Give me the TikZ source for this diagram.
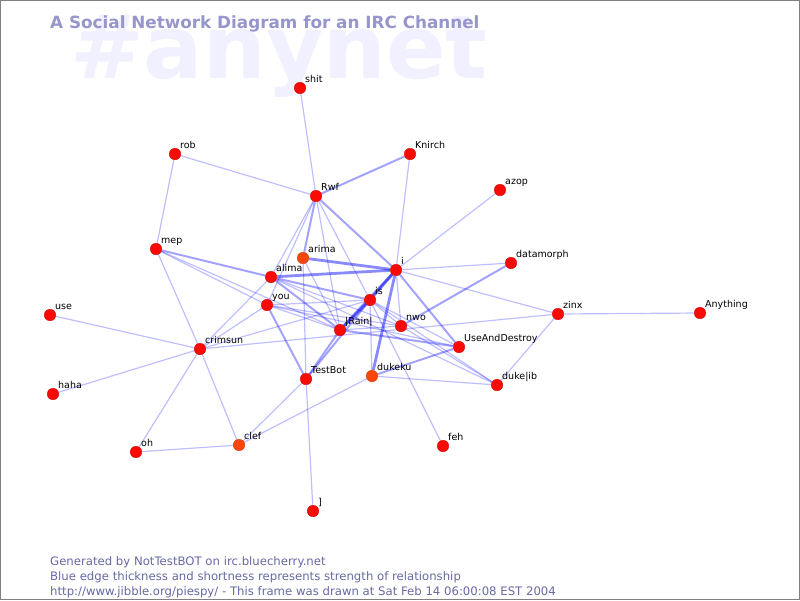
\documentclass[tikz,border=0pt]{standalone}
\usepackage{fontspec}
\setmainfont{DejaVu Sans}
\usetikzlibrary{backgrounds,calc}
\definecolor{nodered}{RGB}{250,10,5}
\definecolor{nodeorange}{RGB}{250,70,10}
\definecolor{titlecol}{RGB}{150,150,205}
\definecolor{markcol}{RGB}{240,240,255}
\definecolor{footcol}{RGB}{105,105,165}
\definecolor{edgecol}{RGB}{0,0,255}
\tikzset{
  dot/.style={circle,fill=nodered,draw=nodered!85!black,line width=0.4pt,minimum size=11.5pt,inner sep=0pt},
  odot/.style={dot,fill=nodeorange,draw=nodeorange!85!black},
  lbl/.style={anchor=base west,inner sep=0pt,font=\fontsize{9.5}{11}\selectfont,text=black},
  ethin/.style={draw=edgecol,opacity=0.25,line width=1.2pt},
  emed/.style={draw=edgecol,opacity=0.36,line width=2pt},
  ethick/.style={draw=edgecol,opacity=0.46,line width=2.8pt},
  foot/.style={anchor=base west,inner sep=0pt,font=\fontsize{11.7}{13}\selectfont,text=footcol},
}
\newcommand\pnode[5][dot]{\node[#1] (#2) at (#3,#4) {}; \node[lbl] (#2-l) at ($(#2)+(5,-6)$) {#5};}
\begin{document}
\begin{tikzpicture}[x=1pt,y=-1pt]
\useasboundingbox (0,0) rectangle (800,600);
% nodes
\pnode{shit}{300}{88}{shit}
\pnode{rob}{175}{154}{rob}
\pnode{Knirch}{410}{154}{Knirch}
\pnode{azop}{500}{190}{azop}
\pnode{Rwf}{316}{196}{Rwf}
\pnode{mep}{156}{249}{mep}
\pnode[odot]{arima}{303}{258}{arima}
\pnode{i}{396}{270}{i}
\pnode{datamorph}{511}{263}{datamorph}
\pnode{alima}{271}{277}{alima}
\pnode{is}{370}{300}{is}
\pnode{you}{267}{305}{you}
\pnode{use}{50}{315}{use}
\pnode{zinx}{558}{314}{zinx}
\pnode{Anything}{700}{313}{Anything}
\pnode{Rain}{340}{330}{|Rain|}
\pnode{nwo}{401}{326}{nwo}
\pnode{crimsun}{200}{349}{crimsun}
\pnode{UAD}{459}{347}{UseAndDestroy}
\pnode{TestBot}{306}{379}{TestBot}
\pnode[odot]{dukeku}{372}{376}{dukeku}
\pnode{dukelib}{497}{385}{duke|ib}
\pnode{haha}{53}{394}{haha}
\pnode{feh}{443}{446}{feh}
\pnode[odot]{clef}{239}{445}{clef}
\pnode{oh}{136}{452}{oh}
\pnode{br}{313}{511}{]}
% titles
\node[anchor=base west,inner sep=0pt,font=\fontsize{16.8}{18}\selectfont\bfseries,text=titlecol] (title) at (50,28) {A Social Network Diagram for an IRC Channel};
\node[foot] (f1) at (50,565) {Generated by NotTestBOT on irc.bluecherry.net};
\node[foot] (f2) at (50,580) {Blue edge thickness and shortness represents strength of relationship};
\node[foot] (f3) at (50,595) {http://www.jibble.org/piespy/ - This frame was drawn at Sat Feb 14 06:00:08 EST 2004};
\begin{pgfonlayer}{background}
\fill[white] (0,0) rectangle (800,600);
\draw[gray,line width=1pt] (0.5,0.5) rectangle (799.5,599.5);
\node[anchor=base west,inner sep=0pt,font=\fontsize{88}{90}\selectfont\bfseries,text=markcol] (mark) at (70,78) {\#anynet};
% thin edges
\foreach \a/\b in {shit/Rwf,rob/Rwf,rob/mep,Knirch/i,azop/i,i/datamorph,i/zinx,zinx/Anything,zinx/dukelib,crimsun/zinx,use/crimsun,haha/crimsun,oh/crimsun,oh/clef,crimsun/clef,mep/crimsun,mep/you,mep/Rain,crimsun/alima,crimsun/you,crimsun/is,TestBot/br,TestBot/clef,clef/dukeku,arima/TestBot,arima/Rain,Rwf/alima,Rwf/is,Rwf/Rain,you/Rwf,you/is,you/Rain,you/nwo,you/UAD,alima/nwo,alima/dukelib,is/dukeku,is/nwo,is/dukelib,is/feh,is/UAD,i/nwo,dukeku/dukelib,nwo/dukelib,Rain/nwo}
  \draw[ethin] (\a) -- (\b);
% medium edges
\foreach \a/\b in {Knirch/Rwf,Rwf/arima,mep/alima,you/TestBot,Rain/TestBot,is/TestBot,alima/is,alima/Rain,UAD/Rain,i/UAD,dukeku/UAD,nwo/datamorph,Rwf/i}
  \draw[emed] (\a) -- (\b);
% thick edges
\foreach \a/\b in {i/arima,i/alima,i/is,i/Rain,i/dukeku,is/Rain}
  \draw[ethick] (\a) -- (\b);
\end{pgfonlayer}
\end{tikzpicture}
\end{document}
